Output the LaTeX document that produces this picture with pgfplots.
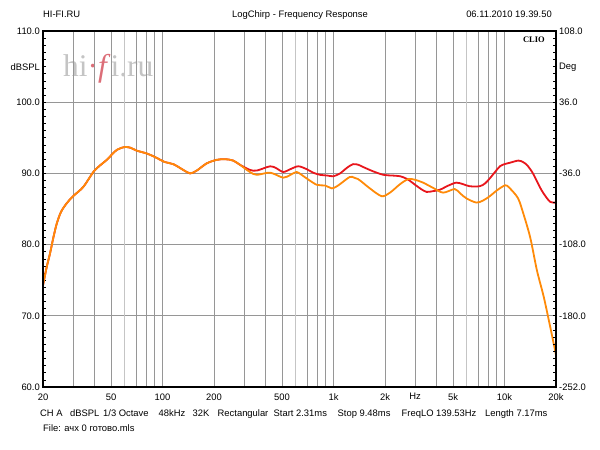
\documentclass[border=0pt]{standalone}
\usepackage{pgfplots}
\pgfplotsset{compat=1.18}
\usepackage{fontspec}
\setmainfont{Liberation Sans}
\newfontfamily\seriffont{Liberation Serif}
\definecolor{cred}{RGB}{232,22,28}
\definecolor{corange}{RGB}{255,138,8}
\definecolor{gridgray}{RGB}{150,150,150}
\definecolor{wmgray}{RGB}{196,196,196}
\definecolor{wmred}{RGB}{220,110,120}
\newcommand\tf{\fontsize{9.4pt}{10pt}\selectfont}
\begin{document}
\begin{tikzpicture}[x=1pt,y=1pt]
\path[use as bounding box] (0,0) rectangle (600,450);
% watermark
\node[anchor=base west,inner sep=0] at (63,373) {\seriffont\fontsize{31.5pt}{32pt}\selectfont\color{wmgray}hi\textcolor{wmred}{·\textit{f}}i.ru};
\begin{axis}[
  at={(43pt,63pt)}, anchor=south west,
  scale only axis, width=513pt, height=356pt,
  xmode=log, xmin=20, xmax=20000, ymin=60, ymax=110,
  xtick={20,50,100,200,500,1000,2000,3000,5000,10000,20000},
  xticklabels={20,50,100,200,500,1k,2k,Hz,5k,10k,20k},
  minor xtick={30,40,70,80,90,300,400,700,800,900,4000,7000,8000,9000},
  extra x ticks={60,600,6000},
  extra x tick labels={},
  extra x tick style={grid=major, major grid style={color=gridgray!55,line width=1.6pt}},
  xmajorgrids, xminorgrids, ymajorgrids,
  grid style={color=gridgray,line width=0.8pt},
  xtick style={draw=none},
  ytick={60,70,80,90,100,110},
  yticklabels={60.0,70.0,80.0,90.0,100.0,110.0},
  minor y tick num=9,
  ytick pos=left,
  tick align=inside,
  major tick length=3pt, minor tick length=3pt,
  ytick style={line width=0.6pt,color=black},
  axis line style={line width=1.7pt},
  ticklabel style={font=\tf},
  yticklabel style={inner sep=0pt, xshift=-3pt},
  xticklabel style={yshift=-3pt},
  clip=true,
]
\addplot[cred, line width=1.8pt, smooth] coordinates {
(20,74.3) (21,76.8) (22,78.8) (23,81.0) (24.1,83.0) (25.5,84.6) (27.5,85.8) (30,86.8) (34.4,88.1) (39.4,90.2) (43,91.1) (47.2,91.9) (54,93.3) (60.3,93.7) (65,93.6) (70.6,93.2) (80.8,92.8) (90.4,92.3) (103,91.6) (115.6,91.3) (132,90.5) (145,90.0) (158.6,90.4) (181,91.4) (207,91.9) (232,92.0) (259,91.8) (284,91.2)
(324,90.5) (356,90.4) (426,91.0) (465,90.7) (508,90.2) (560,90.6) (622,91.0) (696,90.6) (760,90.1) (834,89.8) (920,89.7) (998,89.6) (1092,90.0) (1200,90.8) (1300,91.3) (1400,91.2) (1490,90.9) (1700,90.3) (1957,89.8) (2200,89.7) (2452,89.6) (2700,89.2) (3000,88.4) (3250,87.8) (3500,87.4) (3800,87.5) (4180,87.7) (4700,88.3) (5220,88.7) (5700,88.5) (6240,88.2) (7160,88.2) (7700,88.6) (8200,89.3) (8800,90.2) (9400,91.0) (10000,91.3) (10760,91.5) (12040,91.8) (12800,91.6) (13500,91.2) (14500,90.2) (15460,88.9) (16500,87.6) (17720,86.5) (18500,86.0) (19200,85.9) (20000,85.9)
};
\addplot[corange, line width=1.8pt, smooth] coordinates {
(20,74.3) (21,76.8) (22,78.8) (23,81.0) (24.1,83.0) (25.5,84.6) (27.5,85.8) (30,86.8) (34.4,88.1) (39.4,90.2) (43,91.1) (47.2,91.9) (54,93.3) (60.3,93.7) (65,93.6) (70.6,93.2) (80.8,92.8) (90.4,92.3) (103,91.6) (115.6,91.3) (132,90.5) (145,90.0) (158.6,90.4) (181,91.4) (207,91.9) (232,92.0) (259,91.8) (284,91.2)
(324,90.2) (356,89.8) (426,90.1) (508,89.4) (560,89.8) (608,90.2) (650,89.8) (696,89.3) (798,88.4) (892,88.3) (975,87.9) (1030,88.1) (1092,88.5) (1244,89.5) (1320,89.4) (1392,89.2) (1500,88.6) (1630,87.9) (1911,86.8) (2140,87.3) (2452,88.5) (2740,89.2) (3000,89.1) (3340,88.7) (3800,88.0) (4370,87.3) (5110,87.8) (5500,87.2) (5980,86.5) (6850,85.9) (7500,86.2) (8200,86.8) (9000,87.6) (9820,88.2) (10300,88.3) (11240,87.4) (12000,86.5) (12600,85.1) (14100,81.1) (15460,76.4) (16940,72.7) (18480,68.5) (20000,64.5)
};
\end{axis}
\begin{axis}[
  at={(43pt,63pt)}, anchor=south west,
  scale only axis, width=513pt, height=356pt,
  xmin=0, xmax=1, ymin=-252, ymax=108,
  xtick=\empty,
  ytick={-252,-180,-108,-36,36,108},
  yticklabels={-252.0,-180.0,-108.0,-36.0,36.0,108.0},
  minor y tick num=9,
  ytick pos=right,
  tick align=inside,
  major tick length=3pt, minor tick length=3pt,
  ytick style={line width=0.6pt,color=black},
  axis line style={line width=1.7pt},
  ticklabel style={font=\tf},
  yticklabel style={inner sep=0pt, xshift=3pt},
]
\end{axis}
% texts
\node[anchor=base west,inner sep=0] at (43,432) {\tf HI-FI.RU};
\node[anchor=base,inner sep=0] at (300,432) {\tf LogChirp - Frequency Response};
\node[anchor=base east,inner sep=0] at (552,432) {\tf 06.11.2010 19.39.50};
\node[anchor=base east,inner sep=0] at (545,407) {\seriffont\bfseries\fontsize{8.5pt}{9pt}\selectfont CLIO};
\node[anchor=east,inner sep=0] at (40,383) {\tf dBSPL};
\node[anchor=west,inner sep=0] at (559,383) {\tf Deg};
\node[anchor=base west,inner sep=0] at (40,33.8) {\tf CH A};
\node[anchor=base west,inner sep=0] at (70,33.8) {\tf dBSPL};
\node[anchor=base west,inner sep=0] at (103,33.8) {\tf 1/3 Octave};
\node[anchor=base west,inner sep=0] at (158.5,33.8) {\tf 48kHz};
\node[anchor=base west,inner sep=0] at (192.5,33.8) {\tf 32K};
\node[anchor=base west,inner sep=0] at (217.5,33.8) {\tf Rectangular};
\node[anchor=base west,inner sep=0] at (273.5,33.8) {\tf Start 2.31ms};
\node[anchor=base west,inner sep=0] at (337.5,33.8) {\tf Stop 9.48ms};
\node[anchor=base west,inner sep=0] at (401.5,33.8) {\tf FreqLO 139.53Hz};
\node[anchor=base west,inner sep=0] at (485,33.8) {\tf Length 7.17ms};
\node[anchor=base west,inner sep=0] at (43,18) {\tf File: ачх 0 готово.mls};
\end{tikzpicture}
\end{document}
